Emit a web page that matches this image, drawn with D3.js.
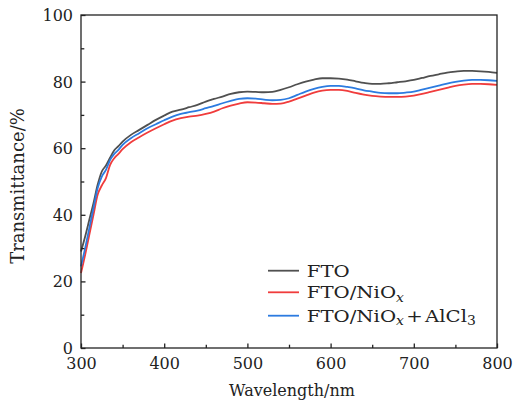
<!DOCTYPE html>
<html>
<head>
<meta charset="utf-8">
<script src="https://cdn.jsdelivr.net/npm/d3@7"></script>
<style>
  body { margin: 0; background: #fff; }
  text { font-family: "DejaVu Serif", "Liberation Serif", serif; fill: #222; }
</style>
</head>
<body>
<div id="plot"></div>
<script>
// wavelength (nm)
var wavelengths = [300,305,310,315,320,325,330,335,340,345,350,360,370,380,390,400,410,420,430,440,450,460,470,480,490,500,
  510,520,530,540,550,560,570,580,590,600,610,620,630,640,650,660,670,680,690,700,710,720,730,740,750,760,770,780,790,800];

// transmittance (%)
var fto = [29,33.5,38.5,43.5,49,53,54.8,57.2,59.4,60.6,62,64,65.5,67,68.5,69.8,71,71.6,72.3,73,74,74.8,75.5,76.3,76.8,77,
  76.9,76.8,76.9,77.5,78.3,79.2,80,80.6,81,81,80.9,80.6,80.1,79.6,79.3,79.3,79.5,79.8,80.1,80.5,81.1,81.7,82.2,82.7,83,83.2,83.2,83.1,82.9,82.6];
var ftoNiO = [22.5,28,34,40,46,48.8,51,55,57,58.3,59.7,61.8,63.3,64.7,66,67.2,68.3,69,69.5,69.8,70.3,71,72,72.8,73.4,73.8,
  73.7,73.5,73.3,73.4,74,74.9,75.8,76.7,77.3,77.5,77.5,77.2,76.6,76.1,75.7,75.5,75.4,75.4,75.5,75.8,76.3,76.9,77.5,78.1,78.7,79.1,79.3,79.3,79.2,79];
var ftoNiOAl = [24.5,30,36,42,48,51.5,53.5,56.5,58.3,59.5,61,63,64.5,66,67.2,68.4,69.5,70.3,70.8,71.3,72,72.7,73.5,74.2,74.8,75,
  74.9,74.6,74.4,74.5,75,76,77,77.8,78.4,78.7,78.7,78.4,78,77.4,77,76.6,76.5,76.5,76.7,77,77.6,78.2,78.8,79.4,79.9,80.3,80.5,80.5,80.4,80.2];

var xTicks = [300,400,500,600,700,800];
var yTicks = [0,20,40,60,80,100];

var series = [
  {name: "FTO", values: fto, color: "#505050"},
  {name: "FTO/NiOx", values: ftoNiO, color: "#f03c3c"},
  {name: "FTO/NiOx+AlCl3", values: ftoNiOAl, color: "#2c7be0"}
];

var svg = d3.select("#plot")
            .append("svg")
            .attr("width", 513)
            .attr("height", 405);

var xScale = d3.scaleLinear().domain([300, 800]).range([81, 497]),
    yScale = d3.scaleLinear().domain([0, 100]).range([348, 15]);

var line = d3.line()
    .x(function(d){ return xScale(d[0]); })
    .y(function(d){ return yScale(d[1]); })
    .curve(d3.curveMonotoneX);

series.forEach(function(s){
  svg.append("path")
    .datum(wavelengths.map(function(w, i){ return [w, s.values[i]]; }))
    .attr("d", line)
    .attr("fill", "none")
    .attr("stroke", s.color)
    .attr("stroke-width", 1.8);
});

// frame
svg.append("rect")
  .attr("x", xScale(300)).attr("y", yScale(100))
  .attr("width", xScale(800) - xScale(300))
  .attr("height", yScale(0) - yScale(100))
  .attr("fill", "none")
  .attr("stroke", "#222")
  .attr("stroke-width", 1.3);

// ticks point inward
var xAxis = d3.axisBottom(xScale).tickValues(xTicks).tickSize(-4.5).tickPadding(9);
var gx = svg.append("g").attr("transform", "translate(0," + yScale(0) + ")").call(xAxis);
var xMinor = d3.axisBottom(xScale).tickValues(d3.range(350, 800, 100)).tickSize(-3.3).tickFormat("");
svg.append("g").attr("transform", "translate(0," + yScale(0) + ")").call(xMinor);

var yAxis = d3.axisLeft(yScale).tickValues(yTicks).tickSize(-4.5).tickPadding(8);
var gy = svg.append("g").attr("transform", "translate(" + xScale(300) + ",0)").call(yAxis);
var yMinor = d3.axisLeft(yScale).tickValues(d3.range(10, 100, 20)).tickSize(-3.3).tickFormat("");
svg.append("g").attr("transform", "translate(" + xScale(300) + ",0)").call(yMinor);

svg.selectAll(".domain").remove();
svg.selectAll(".tick line").attr("stroke", "#222").attr("stroke-width", 1.3);
gx.selectAll("text").style("font-size", "16px").attr("dy", "0.72em");
gy.selectAll("text").style("font-size", "16px").attr("dy", "0.34em");

// axis titles
svg.append("text")
  .attr("x", 292).attr("y", 396)
  .attr("text-anchor", "middle")
  .style("font-size", "16px")
  .text("Wavelength/nm");

svg.append("text")
  .attr("transform", "translate(24,186) rotate(-90)")
  .attr("text-anchor", "middle")
  .style("font-size", "18px")
  .text("Transmittance/%");

// legend (text widened a little, like the reference)
var legendY = [270.7, 292.3, 315.7];
var legend = svg.append("g").attr("transform", "translate(268,0)");
series.forEach(function(s, i){
  var g = legend.append("g").attr("transform", "translate(0," + legendY[i] + ")");
  g.append("line").attr("x1", 0).attr("x2", 31).attr("y1", 0).attr("y2", 0)
    .attr("stroke", s.color).attr("stroke-width", 1.8);
  var t = g.append("text")
    .attr("transform", "translate(38.7,6) scale(1.16,1)")
    .style("font-size", "17px");
  if (i === 0) {
    t.text("FTO");
  } else {
    t.append("tspan").text("FTO/NiO");
    t.append("tspan").attr("dy", 3.5).style("font-size", "12px").style("font-style", "italic").text("x");
    if (i === 2) {
      t.append("tspan").attr("dy", -3.5).attr("dx", 2).text("+");
      t.append("tspan").attr("dx", 2).text("AlCl");
      t.append("tspan").attr("dy", 3.5).style("font-size", "12px").text("3");
    }
  }
});
</script>
</body>
</html>
